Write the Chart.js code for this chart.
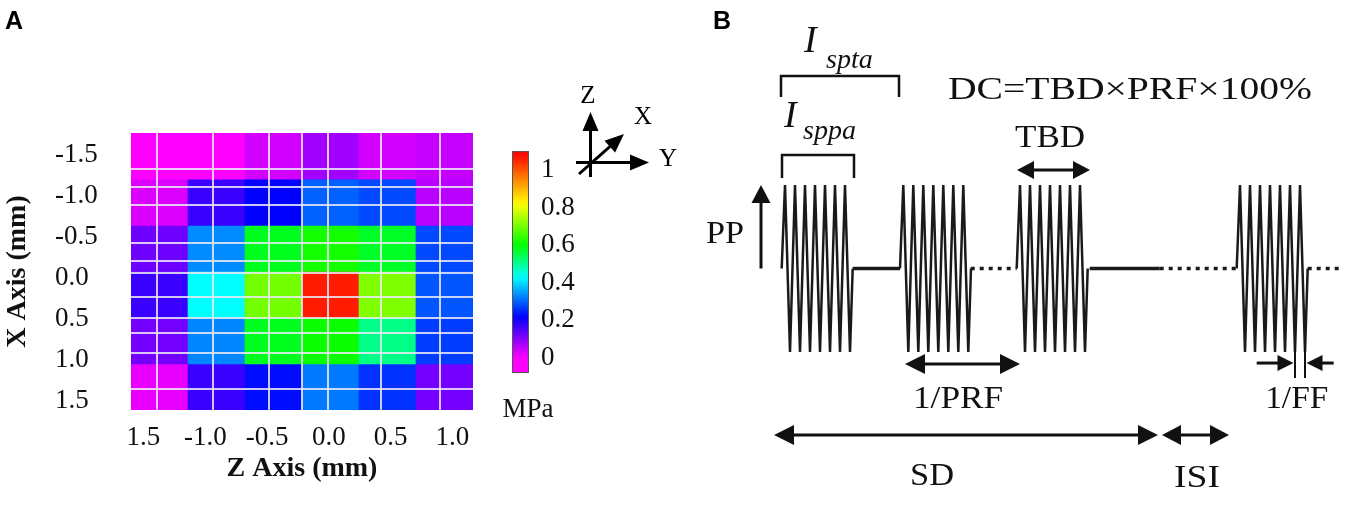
<!DOCTYPE html>
<html>
<head>
<meta charset="utf-8">
<script src="https://cdn.jsdelivr.net/npm/chart.js@4.4.1/dist/chart.umd.min.js"></script>
<style>
  html, body { margin: 0; padding: 0; background: #fff; }
  #wrap { position: relative; width: 1351px; height: 505px; overflow: hidden; }
  canvas { position: absolute; top: 0; }
  #chartA { left: 0; }
  #chartB { left: 700px; }
</style>
</head>
<body>
<div id="wrap">
  <canvas id="chartA" width="700" height="505"></canvas>
  <canvas id="chartB" width="651" height="505"></canvas>
</div>
<script>
// ---- panel A: acoustic pressure map (MPa), rows from top to bottom ----
const colNames = ['c1', 'c2', 'c3', 'c4', 'c5', 'c6'];
const pRow1 = [0.00, 0.00, 0.04, 0.08, 0.04, 0.05];
const pRow2 = [0.03, 0.17, 0.22, 0.30, 0.28, 0.06];
const pRow3 = [0.125, 0.335, 0.58, 0.617, 0.575, 0.28];
const pRow4 = [0.17, 0.43, 0.70, 1.06, 0.71, 0.29];
const pRow5 = [0.12, 0.33, 0.58, 0.61, 0.51, 0.27];
const pRow6 = [0.02, 0.17, 0.23, 0.32, 0.26, 0.12];
const pressure = [pRow1, pRow2, pRow3, pRow4, pRow5, pRow6];

const xTickVals = [-1.5, -1, -0.5, 0, 0.5, 1, 1.5];
const xTickLabels = ['-1.5', '-1.0', '-0.5', '0.0', '0.5', '1.0', '1.5'];
const zTickVals = [-1.5, -1, -0.5, 0, 0.5, 1];
const zTickLabels = ['1.5', '-1.0', '-0.5', '0.0', '0.5', '1.0'];
const cbTickVals = [0, 0.2, 0.4, 0.6, 0.8, 1];
const cbTickLabels = ['0', '0.2', '0.4', '0.6', '0.8', '1'];
const cbRange = [-0.08, 1.1];

// white mesh over the map, in cell units
const meshX = [0.45, 1.43, 2.42, 3.0, 3.45, 4.39, 5.42];
const meshY = [0.79, 1.18, 1.56, 2.39, 2.78, 3.04, 3.56, 4.0, 4.34, 4.77, 5.55];

// colour map stops
const cmapVals = [0.0, 0.22, 0.43, 0.6, 0.82, 1.09];
const cmapCols = [[255, 0, 255], [0, 0, 255], [0, 255, 255], [0, 255, 0], [255, 255, 0], [255, 0, 0]];

// ---- panel B: pulse scheme, time in cycles of FF ----
const burstStarts = [0, 11.83, 23.5, 45.5];
const cycT = [0, 0.33, 0.83, 1.33, 1.83, 2.33, 2.83, 3.33, 3.83, 4.33, 4.83, 5.33, 5.83, 6.33, 6.83, 7.1];
const cycA = [0, 1, -1, 1, -1, 1, -1, 1, -1, 1, -1, 1, -1, 1, -1, 0];
const baseFrom = [7.1, 18.9, 30.8, 37.8, 52.6];
const baseTo = [11.83, 23.5, 37.8, 45.5, 55.9];
const baseDotted = [false, true, false, true, true];

const serif = "'Liberation Serif', 'Times New Roman', serif";
const sans = "'Liberation Sans', Arial, sans-serif";

function cmap(v) {
  const n = cmapVals.length;
  let c = cmapCols[n - 1];
  if (v <= cmapVals[0]) c = cmapCols[0];
  else {
    for (let i = 1; i < n; i++) {
      if (v <= cmapVals[i]) {
        const f = (v - cmapVals[i - 1]) / (cmapVals[i] - cmapVals[i - 1]);
        const a = cmapCols[i - 1], b = cmapCols[i];
        c = a.map((k, j) => k + (b[j] - k) * f);
        break;
      }
    }
  }
  return `rgb(${Math.round(c[0])},${Math.round(c[1])},${Math.round(c[2])})`;
}

function head(ctx, xt, yt, dx, dy, len, half) {
  const bx = xt - dx * len, by = yt - dy * len;
  ctx.beginPath();
  ctx.moveTo(xt, yt);
  ctx.lineTo(bx - dy * half, by + dx * half);
  ctx.lineTo(bx + dy * half, by - dx * half);
  ctx.closePath();
  ctx.fill();
}

function arrow(ctx, x1, y1, x2, y2, len, half, both) {
  const L = Math.hypot(x2 - x1, y2 - y1), dx = (x2 - x1) / L, dy = (y2 - y1) / L;
  ctx.beginPath();
  ctx.moveTo(both ? x1 + dx * len * 0.7 : x1, both ? y1 + dy * len * 0.7 : y1);
  ctx.lineTo(x2 - dx * len * 0.7, y2 - dy * len * 0.7);
  ctx.stroke();
  head(ctx, x2, y2, dx, dy, len, half);
  if (both) head(ctx, x1, y1, -dx, -dy, len, half);
}

const panelA = {
  id: 'panelA',
  afterDraw(chart) {
    const ctx = chart.ctx, cb = chart.scales.cb;
    ctx.save();
    // colour bar
    const yTop = cb.getPixelForValue(cbRange[1]), yBot = cb.getPixelForValue(cbRange[0]);
    const x0 = cb.left + 39, w = 17;
    const g = ctx.createLinearGradient(0, yBot, 0, yTop);
    for (let i = 0; i <= 40; i++) {
      g.addColorStop(i / 40, cmap(cbRange[0] + (cbRange[1] - cbRange[0]) * i / 40));
    }
    ctx.fillStyle = g;
    ctx.fillRect(x0, yTop, w, yBot - yTop);
    ctx.strokeStyle = '#555';
    ctx.lineWidth = 1;
    ctx.strokeRect(x0 + 0.5, yTop + 0.5, w - 1, yBot - yTop - 1);

    ctx.fillStyle = '#111';
    ctx.font = '27px ' + serif;
    ctx.textAlign = 'center';
    ctx.textBaseline = 'alphabetic';
    ctx.fillText('MPa', x0 + 16, 417);

    // panel letter
    ctx.font = 'bold 25px ' + sans;
    ctx.textAlign = 'left';
    ctx.textBaseline = 'top';
    ctx.fillStyle = '#000';
    ctx.fillText('A', 5, 10);

    // orientation glyph
    ctx.strokeStyle = '#000';
    ctx.fillStyle = '#000';
    ctx.lineWidth = 3;
    arrow(ctx, 590.5, 177, 590.5, 112, 19, 8, false);
    arrow(ctx, 576, 162.5, 649, 162.5, 19, 8, false);
    arrow(ctx, 579, 174, 624, 134, 19, 8, false);
    ctx.font = '25px ' + serif;
    ctx.textAlign = 'center';
    ctx.textBaseline = 'middle';
    ctx.fillText('Z', 588, 96);
    ctx.fillText('X', 643, 117);
    ctx.fillText('Y', 668, 159);
    ctx.restore();
  }
};

const tickFont = { family: serif, size: 27 };
const titleFont = { family: serif, size: 28, weight: 'bold' };
const meshColor = 'rgba(236,234,246,0.85)';

new Chart(document.getElementById('chartA'), {
  type: 'bar',
  data: {
    labels: colNames,
    datasets: pressure.map((row, r) => ({
      label: 'row ' + (r + 1),
      data: row.map(() => 1),
      backgroundColor: row.map(cmap),
      borderWidth: 0,
      barPercentage: 1,
      categoryPercentage: 1,
      xAxisID: 'x',
      yAxisID: 'y'
    }))
  },
  options: {
    responsive: false,
    animation: false,
    events: [],
    layout: { padding: { top: 133, left: 0, right: 0, bottom: 0 } },
    plugins: { legend: { display: false }, tooltip: { enabled: false } },
    scales: {
      x: { display: false, stacked: true },
      y: { display: false, stacked: true, min: 0, max: 6, reverse: true },
      zl: {
        type: 'linear', position: 'bottom', offset: false, min: -1.601, max: 1.166,
        afterBuildTicks: s => { s.ticks = zTickVals.map(v => ({ value: v })); },
        afterFit: s => { s.height = 95; },
        grid: { display: false, drawTicks: false, offset: false },
        border: { display: false },
        ticks: {
          font: tickFont, color: '#111', padding: 12, maxRotation: 0, autoSkip: false,
          callback: (v, i) => zTickLabels[i]
        },
        title: { display: true, text: 'Z Axis (mm)', font: titleFont, color: '#111', padding: { top: 0, bottom: 19 } }
      },
      xt: {
        type: 'linear', position: 'left', weight: 2, min: 0, max: 1,
        afterFit: s => { s.width = 55; },
        grid: { display: false, drawTicks: false },
        border: { display: false },
        ticks: { display: false },
        title: { display: true, text: 'X Axis (mm)', font: titleFont, color: '#111', padding: { top: 1, bottom: 0 } }
      },
      xl: {
        type: 'linear', position: 'left', weight: 1, reverse: true, min: -1.768, max: 1.61,
        afterBuildTicks: s => { s.ticks = xTickVals.map(v => ({ value: v })); },
        afterFit: s => { s.width = 76; },
        grid: { display: false, drawTicks: false },
        border: { display: false },
        ticks: {
          font: tickFont, color: '#111', padding: 32, crossAlign: 'far', autoSkip: false,
          callback: (v, i) => xTickLabels[i]
        }
      },
      cb: {
        type: 'linear', position: 'right', min: -0.2766, max: 1.1968,
        afterBuildTicks: s => { s.ticks = cbTickVals.map(v => ({ value: v })); },
        afterFit: s => { s.width = 227; },
        grid: { display: false, drawTicks: false },
        border: { display: false },
        ticks: {
          font: tickFont, color: '#111', padding: 68, autoSkip: false,
          callback: (v, i) => cbTickLabels[i]
        }
      },
      gx: {
        type: 'linear', position: 'bottom', offset: false, min: 0, max: 6, z: 1,
        afterBuildTicks: s => { s.ticks = meshX.map(v => ({ value: v })); },
        grid: { color: meshColor, lineWidth: 2, drawTicks: false, offset: false, z: 1 },
        border: { display: false },
        ticks: { display: false }
      },
      gy: {
        type: 'linear', position: 'left', weight: 0, min: 0, max: 6, reverse: true, z: 1,
        afterBuildTicks: s => { s.ticks = meshY.map(v => ({ value: v })); },
        grid: { color: meshColor, lineWidth: 2, drawTicks: false, offset: false, z: 1 },
        border: { display: false },
        ticks: { display: false }
      }
    }
  },
  plugins: [panelA]
});

// ---- panel B ----
const wave = [];
burstStarts.forEach(t0 => {
  cycT.forEach((dt, i) => wave.push({ x: t0 + dt, y: cycA[i] }));
  wave.push({ x: t0 + cycT[cycT.length - 1] + 0.2, y: null });
});
const solidBase = [], dottedBase = [];
baseFrom.forEach((t, i) => {
  const target = baseDotted[i] ? dottedBase : solidBase;
  target.push({ x: t, y: 0 }, { x: baseTo[i], y: 0 }, { x: baseTo[i] + 0.1, y: null });
});

// annotation layout in data units (t = cycles, a = amplitude)
const bArrows = [
  { t1: 23.53, a1: 1.18, t2: 30.83, a2: 1.18, both: true, len: 17, half: 9 },    // TBD
  { t1: -2.07, a1: 0.0, t2: -2.07, a2: 1.0, both: false, len: 18, half: 9.5 },   // PP
  { t1: 12.33, a1: -1.144, t2: 23.83, a2: -1.144, both: true, len: 20, half: 10 }, // 1/PRF
  { t1: -0.77, a1: -1.994, t2: 37.63, a2: -1.994, both: true, len: 20, half: 10 }, // SD
  { t1: 38.03, a1: -1.994, t2: 44.73, a2: -1.994, both: true, len: 19, half: 10 }, // ISI
  { t1: 47.5, a1: -1.132, t2: 51.18, a2: -1.132, both: false, len: 16, half: 8 },  // 1/FF left
  { t1: 55.2, a1: -1.132, t2: 52.48, a2: -1.132, both: false, len: 16, half: 8 }   // 1/FF right
];
const bTexts = [
  { s: 'DC=TBD×PRF×100%', t: 34.83, a: 2.03, w: 364 },
  { s: 'TBD', t: 26.83, a: 1.455, w: 70 },
  { s: 'PP', t: -5.67, a: 0.305, w: 38 },
  { s: '1/PRF', t: 17.63, a: -1.671, w: 90 },
  { s: '1/FF', t: 51.5, a: -1.671, w: 63 },
  { s: 'SD', t: 15.03, a: -2.593, w: 44 },
  { s: 'ISI', t: 41.53, a: -2.617, w: 46 }
];
const bItalic = [
  { s: 'I', t: 2.23, a: 2.593, size: 38 },
  { s: 'spta', t: 4.43, a: 2.401, size: 28 },
  { s: 'I', t: 0.23, a: 1.695, size: 38 },
  { s: 'sppa', t: 2.13, a: 1.551, size: 28 }
];
const bBrackets = [
  { t1: -0.07, t2: 11.73, aTop: 2.305, aEnd: 2.054 },
  { t1: 0.03, t2: 7.23, aTop: 1.359, aEnd: 1.084 }
];
const ffMarks = [burstStarts[3] + cycT[12], burstStarts[3] + cycT[14]];

const panelB = {
  id: 'panelB',
  afterDraw(chart) {
    const { ctx, scales: { x, y } } = chart;
    const px = t => x.getPixelForValue(t), py = a => y.getPixelForValue(a);
    ctx.save();
    ctx.fillStyle = '#000';
    ctx.strokeStyle = '#111';

    ctx.font = 'bold 25px ' + sans;
    ctx.textBaseline = 'top';
    ctx.textAlign = 'left';
    ctx.fillText('B', 13, 10);

    ctx.lineWidth = 2.5;
    bBrackets.forEach(b => {
      ctx.beginPath();
      ctx.moveTo(px(b.t1), py(b.aEnd));
      ctx.lineTo(px(b.t1), py(b.aTop));
      ctx.lineTo(px(b.t2), py(b.aTop));
      ctx.lineTo(px(b.t2), py(b.aEnd));
      ctx.stroke();
    });

    ctx.lineWidth = 3;
    ctx.fillStyle = '#111';
    bArrows.forEach(r => arrow(ctx, px(r.t1), py(r.a1), px(r.t2), py(r.a2), r.len, r.half, r.both));

    ctx.lineWidth = 2;
    ffMarks.forEach(t => {
      ctx.beginPath();
      ctx.moveTo(px(t), py(-0.95));
      ctx.lineTo(px(t), py(-1.311));
      ctx.stroke();
    });

    ctx.fillStyle = '#111';
    ctx.textBaseline = 'alphabetic';
    bTexts.forEach(d => {
      ctx.font = '32px ' + serif;
      const m = ctx.measureText(d.s).width;
      ctx.save();
      ctx.translate(px(d.t), py(d.a));
      ctx.scale(d.w / m, 1);
      ctx.textAlign = 'center';
      ctx.fillText(d.s, 0, 0);
      ctx.restore();
    });
    ctx.textAlign = 'left';
    bItalic.forEach(d => {
      ctx.font = `italic ${d.size}px ${serif}`;
      ctx.fillText(d.s, px(d.t), py(d.a));
    });
    ctx.restore();
  }
};

new Chart(document.getElementById('chartB'), {
  type: 'line',
  data: {
    datasets: [
      { label: 'burst', data: wave, borderColor: '#1a1a1a', borderWidth: 2.5, pointRadius: 0, tension: 0, spanGaps: false },
      { label: 'off', data: solidBase, borderColor: '#1a1a1a', borderWidth: 3.5, pointRadius: 0, spanGaps: false },
      { label: 'off (cont.)', data: dottedBase, borderColor: '#1a1a1a', borderWidth: 3.5, borderDash: [4, 5], pointRadius: 0, spanGaps: false }
    ]
  },
  options: {
    responsive: false,
    animation: false,
    events: [],
    layout: { padding: 0 },
    plugins: { legend: { display: false }, tooltip: { enabled: false } },
    scales: {
      x: { type: 'linear', display: false, min: -8.17, max: 56.93 },
      y: { type: 'linear', display: false, min: -2.832, max: 3.2156 }
    }
  },
  plugins: [panelB]
});
</script>
</body>
</html>
